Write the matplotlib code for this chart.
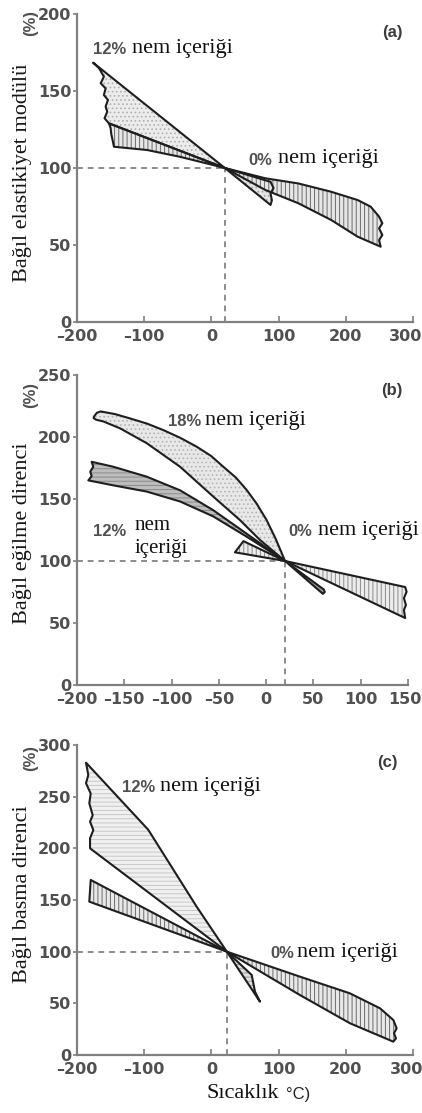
import matplotlib
matplotlib.use("Agg")
import matplotlib.pyplot as plt
from matplotlib.transforms import ScaledTranslation

W, H = 422, 1113

# ---- panel (a): relative modulus of elasticity ----
a_xticks = [-200, -100, 0, 100, 200, 300]
a_yticks = [0, 50, 100, 150, 200]
a_ref = (20, 100)
# 12% moisture, cold side (upper line, then wavy left edge back up)
a12_x = [-176, 20, -152.5, -159, -155, -157.4, -154, -160, -157.4, -164.7, -160, -167]
a12_y = [168.4, 100, 129, 132.3, 136.6, 139.8, 144.2, 147.4, 151.7, 155, 159.3, 164.7]
# 12% moisture, warm side wedge
a12r_x = [20, 88, 92.5, 88, 90, 88]
a12r_y = [100, 91, 87, 83.5, 79, 76]
# 0% moisture band
a0_x = [-152.5, 20, 80.4, 129, 178, 217.6, 237, 249.5, 254.4, 249.5, 254.4, 249.5, 251.9,
        217.6, 178.4, 129.4, 80.4, 20, 2, -47, -96, -145, -147, -149, -150]
a0_y = [129, 100, 93.3, 90, 84.6, 79.2, 74.9, 68.4, 64.1, 60.8, 56.5, 53.2, 48.9,
        55.4, 66.2, 77.1, 85.7, 100, 102, 107.3, 111.7, 113.8, 118, 122, 126]

# ---- panel (b): relative bending strength ----
b_xticks = [-200, -150, -100, -50, 0, 50, 100, 150]
b_yticks = [0, 50, 100, 150, 200, 250]
b_ref = (20, 100)
b18_x = [-182, -179, -175, -160, -144, -126, -108.8, -91, -73.5, -58, -45.3, -32, -20.6,
         -10, 0.5, 10, 20,
         -6.6, -27.7, -56, -91, -126.3, -154.5, -172, -180, -182.5]
b18_y = [216.5, 219.5, 220.6, 218.5, 215, 210.8, 205.6, 199.4, 192.2, 184.6, 176, 167.3,
         157.3, 146.2, 133, 118, 100,
         117, 133, 152, 176, 195, 207, 212.5, 214, 215.3]
b12_x = [-184.5, -161.6, -126.3, -91, -56, -20.6, 20,
         -20.6, -56, -91, -126.3, -161.6, -188, -184.5, -186, -182.8]
b12_y = [180, 176, 168, 157, 141, 122, 100,
         119.6, 136, 148, 156, 161, 165, 168.5, 172, 176]
b12r_x = [20, 61, 62, 60]
b12r_y = [100, 77, 75, 73.5]
b0_x = [-24, 20, 147, 148.5, 145.7, 147.8, 145.7, 147, 20, -33]
b0_y = [116, 100, 79, 75.2, 70, 64.5, 60.5, 54, 100, 107]

# ---- panel (c): relative compressive strength ----
c_xticks = [-200, -100, 0, 100, 200, 300]
c_yticks = [0, 50, 100, 150, 200, 250, 300]
c_ref = (23, 100)
c12_x = [-186.6, -94, -21.9, 23, -180.6, -180.6, -175.7, -180.6, -176.6, -181.7,
         -179.6, -186.6, -183.2]
c12_y = [282.9, 218, 143.5, 100, 200, 209.7, 217.7, 225.8, 232, 243.6,
         253, 263, 271]
c12r_x = [23, 60, 62.4, 64.9, 72.3]
c12r_y = [100, 77.4, 69.4, 61.3, 51.6]
c0_x = [-179.6, 23, 131.8, 206, 250.9, 270.7, 275.7, 271.7, 274.7, 270.7,
        206.2, 131.8, 23, -181.7]
c0_y = [169.4, 100, 75.8, 59.7, 45.2, 33.9, 25.8, 21, 16.1, 12.9,
        30.7, 58, 100, 148.4]

AXIS_C = "#808080"
TICK_C = "#505050"
LINE_C = "#1e1e1e"
plt.rcParams["hatch.linewidth"] = 0.7

fig = plt.figure(figsize=(W / 100, H / 100), dpi=100)


def fig_xy(px, py):
    return px / W, 1 - py / H


def band(ax, xs, ys, face, hatch, hcolor, lw=1.5):
    ax.fill(xs, ys, facecolor=face, edgecolor=hcolor, lw=0, hatch=hatch, zorder=2)
    ax.fill(xs, ys, facecolor="none", edgecolor=LINE_C, lw=lw, joinstyle="round", zorder=4)


def setup(ax, xlim, ylim, xt, yt, ref, last_shift):
    ax.set_xlim(*xlim)
    ax.set_ylim(*ylim)
    for s in ("top", "right"):
        ax.spines[s].set_visible(False)
    for s in ("left", "bottom"):
        ax.spines[s].set_color(AXIS_C)
        ax.spines[s].set_linewidth(1.6)
    ax.set_xticks(xt)
    ax.set_xticklabels([str(v).replace("-", "\u2013") for v in xt],
                       fontweight="bold", color=TICK_C, fontsize=11.5)
    ax.set_yticks(yt)
    ax.set_yticklabels([str(v) for v in yt], fontweight="bold", color=TICK_C, fontsize=11.5)
    ax.tick_params(axis="x", direction="in", length=4, width=1.2, color=AXIS_C, pad=5)
    ax.tick_params(axis="y", direction="out", length=3, width=1.2, color=AXIS_C, pad=1)
    # last x label sits against the right edge, nudge it inwards
    lab = ax.get_xticklabels()[-1]
    lab.set_transform(lab.get_transform() + ScaledTranslation(-last_shift / 100, 0, fig.dpi_scale_trans))
    ax.patch.set_alpha(0)
    rx, ry = ref
    ax.plot([xlim[0], rx], [ry, ry], ls=(0, (3, 2.5)), color="#8c8c8c", lw=1.4, zorder=1)
    ax.plot([rx, rx], [0, ry], ls=(0, (3, 2.5)), color="#8c8c8c", lw=1.4, zorder=1)


ax_a = fig.add_axes([77 / W, 1 - 322 / H, 336 / W, 308 / H])
ax_b = fig.add_axes([77 / W, 1 - 685 / H, 331 / W, 310 / H])
ax_c = fig.add_axes([77 / W, 1 - 1055 / H, 336 / W, 310 / H])

setup(ax_a, (-200, 300), (0, 200), a_xticks, a_yticks, a_ref, 7)
band(ax_a, a12_x, a12_y, "#ececec", "....", "#b0b0b0")
band(ax_a, a12r_x, a12r_y, "#e4e4e4", "....", "#a0a0a0")
band(ax_a, a0_x, a0_y, "#e6e6e6", "||||", "#6a6a6a")

setup(ax_b, (-200, 150), (0, 250), b_xticks, b_yticks, b_ref, 3)
band(ax_b, b12_x, b12_y, "#bdbdbd", "----", "#8a8a8a")
band(ax_b, b18_x, b18_y, "#e8e8e8", "....", "#b4b4b4")
band(ax_b, b12r_x, b12r_y, "#9a9a9a", None, "#777777")
band(ax_b, b0_x, b0_y, "#ececec", "||||", "#8a8a8a")

setup(ax_c, (-200, 300), (0, 300), c_xticks, c_yticks, c_ref, 6)
band(ax_c, c12_x, c12_y, "#f0f0f0", "----", "#c8c8c8")
band(ax_c, c12r_x, c12r_y, "#e0e0e0", "----", "#999999")
band(ax_c, c0_x, c0_y, "#e8e8e8", "||||", "#6a6a6a")

serif = "Liberation Serif"
sans = "Liberation Sans"


def ftext(px, py, s, **kw):
    x, y = fig_xy(px, py)
    fig.text(x, y, s, **kw)


def note(px_pct, px_txt, py, pct):
    ftext(px_pct, py, pct, family=sans, fontweight="bold", color="#505050",
          fontsize=12, va="center", ha="left")
    ftext(px_txt, py - 1, "nem içeriği", family=serif, color="#111111",
          fontsize=16, va="center", ha="left")


# y labels and (%) marks
for py_lab, py_pct, lab in [(173, 23, "Bağıl elastikiyet modülü"),
                            (533, 395, "Bağıl eğilme direnci"),
                            (894, 758, "Bağıl basma direnci")]:
    ftext(23, py_lab, lab, family=serif, fontsize=16, color="#161616",
          rotation=90, va="center", ha="center")
    ftext(31, py_pct, "(%)", family=sans, fontweight="bold", fontsize=12,
          color="#505050", rotation=90, va="center", ha="center")

# panel letters
for px, py, s in [(392, 33, "(a)"), (392, 390, "(b)"), (387, 763, "(c)")]:
    ftext(px, py, s, family=sans, fontweight="bold", fontsize=12,
          color="#3c3c3c", va="center", ha="center")

# curve annotations
note(93, 132, 50, "12%")
note(248, 278, 160, "0%")
note(168, 205, 422, "18%")
note(288, 318, 532, "0%")
ftext(93, 532, "12%", family=sans, fontweight="bold", color="#505050",
      fontsize=12, va="center", ha="left")
ftext(135, 526, "nem", family=serif, color="#111111", fontsize=15, va="center", ha="left")
ftext(135, 549, "içeriği", family=serif, color="#111111", fontsize=15, va="center", ha="left")
note(122, 160, 788, "12%")
note(270, 297, 953, "0%")

# x label
ftext(207, 1093, "Sıcaklık", family=serif, fontsize=16, color="#111111",
      va="center", ha="left")
ftext(286, 1094, "°C)", family=sans, fontsize=12, color="#222222",
      va="center", ha="left")

fig.savefig("out.png", dpi=100)
